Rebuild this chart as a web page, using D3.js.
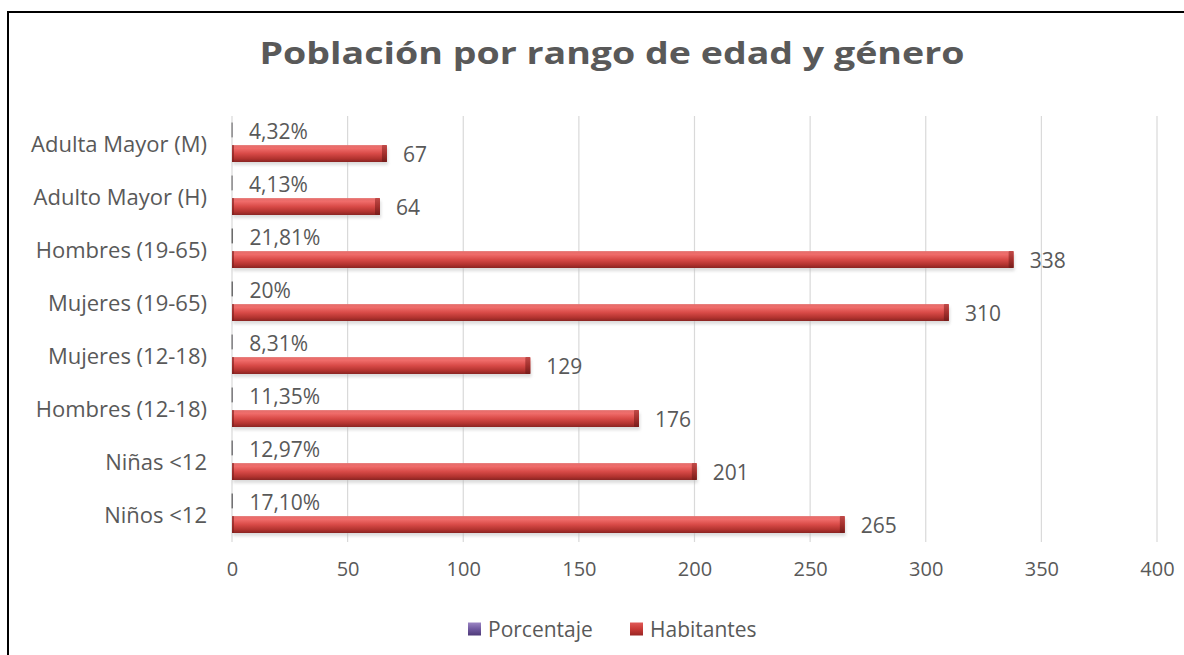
<!DOCTYPE html>
<html>
<head>
<meta charset="utf-8">
<script src="https://cdn.jsdelivr.net/npm/d3@7"></script>
<style>
  html, body { margin: 0; padding: 0; background: #fff; }
  svg { display: block; font-family: "Open Sans", "Noto Sans", sans-serif; }
</style>
</head>
<body>
<svg id="chart" width="1184" height="655"></svg>
<script>
// Categories, top to bottom
const categories = [
  "Adulta Mayor (M)", "Adulto Mayor (H)", "Hombres (19-65)", "Mujeres (19-65)",
  "Mujeres (12-18)", "Hombres (12-18)", "Niñas <12", "Niños <12"
];
// Series values
const habitantes = [67, 64, 338, 310, 129, 176, 201, 265];
const porcentaje = [0.0432, 0.0413, 0.2181, 0.20, 0.0831, 0.1135, 0.1297, 0.1710];
const porcentajeLabels = ["4,32%", "4,13%", "21,81%", "20%", "8,31%", "11,35%", "12,97%", "17,10%"];
const seriesNames = ["Porcentaje", "Habitantes"];
const xTicks = [0, 50, 100, 150, 200, 250, 300, 350, 400];
const title = "Población por rango de edad y género";

const textColor = "#595959";
const font = "'Open Sans', 'Noto Sans', sans-serif";
const svg = d3.select("#chart");
const defs = svg.append("defs");

// Cylinder-like shading for the bars
function barGradient(id, stops) {
  const g = defs.append("linearGradient").attr("id", id)
    .attr("x1", 0).attr("y1", 0).attr("x2", 0).attr("y2", 1);
  stops.forEach(([o, c]) => g.append("stop").attr("offset", o).attr("stop-color", c));
}
barGradient("gRed", [[0, "#e46f6d"], [0.2, "#ef6b69"], [0.5, "#d84a47"], [0.8, "#b2332f"], [1, "#8a2422"]]);
barGradient("gRedCap", [[0, "#c04a48"], [0.5, "#a3302d"], [1, "#761c1a"]]);
barGradient("gPurple", [[0, "#9c86c4"], [0.5, "#7059a0"], [1, "#4e3a78"]]);
barGradient("gLegRed", [[0, "#e05a58"], [0.5, "#c83a37"], [1, "#9a2624"]]);
const blur = defs.append("filter").attr("id", "shadow").attr("x", "-5%").attr("y", "-50%").attr("width", "110%").attr("height", "200%");
blur.append("feGaussianBlur").attr("stdDeviation", 1.5);

// Frame
svg.append("rect").attr("x", 8).attr("y", 12).attr("width", 1200).attr("height", 700)
  .attr("fill", "none").attr("stroke", "#000").attr("stroke-width", 2);

// Title
svg.append("text").attr("x", 612).attr("y", 64).attr("text-anchor", "middle")
  .attr("font-size", 31).attr("font-weight", "bold").attr("fill", textColor)
  .attr("textLength", 705).attr("lengthAdjust", "spacingAndGlyphs")
  .text(title);

// Scales
const x = d3.scaleLinear().domain([0, 400]).range([232, 1157]);
const y = d3.scaleBand().domain(categories).range([116, 540]);
const ySeries = d3.scaleBand().domain(seriesNames).range([8, 46]).paddingInner(0.2);

// Gridlines
svg.append("g").selectAll("line").data(xTicks).join("line")
  .attr("x1", d => x(d)).attr("x2", d => x(d))
  .attr("y1", 116).attr("y2", 542)
  .attr("stroke", "#d9d9d9").attr("stroke-width", 1.2);

// X axis labels
const xAxis = d3.axisBottom(x).tickValues(xTicks).tickSize(0).tickPadding(0);
const gx = svg.append("g").attr("transform", "translate(0,562)").call(xAxis);
gx.select(".domain").remove();
gx.selectAll("text").attr("font-size", 20).attr("fill", textColor).attr("font-family", font);

// Y axis category labels
const yAxis = d3.axisLeft(y).tickSize(0).tickPadding(0);
const gy = svg.append("g").attr("transform", "translate(207,2)").call(yAxis);
gy.select(".domain").remove();
gy.selectAll("text").attr("font-size", 22).attr("fill", textColor).attr("font-family", font);

const rows = categories.map((c, i) => ({ c, hab: habitantes[i], pct: porcentaje[i], pl: porcentajeLabels[i] }));

// Porcentaje bars (on the same value axis, so they are slivers at zero)
const pctG = svg.append("g");
pctG.selectAll("rect").data(rows).join("rect")
  .attr("x", x(0))
  .attr("y", d => y(d.c) + ySeries("Porcentaje") - 1)
  .attr("width", d => x(d.pct) - x(0))
  .attr("height", ySeries.bandwidth() - 3)
  .attr("fill", "url(#gPurple)").attr("stroke", "#6b6b6b").attr("stroke-width", 1);
pctG.selectAll("text").data(rows).join("text")
  .attr("x", d => x(d.pct) + 17)
  .attr("y", d => y(d.c) + ySeries("Porcentaje") + ySeries.bandwidth() / 2 - 1)
  .attr("dominant-baseline", "central")
  .attr("font-size", 21).attr("fill", textColor)
  .text(d => d.pl);

// Habitantes bars
const habG = svg.append("g");
habG.selectAll("rect.shadow").data(rows).join("rect").attr("class", "shadow")
  .attr("x", x(0) + 1)
  .attr("y", d => y(d.c) + ySeries("Habitantes") + 3)
  .attr("width", d => x(d.hab) - x(0))
  .attr("height", ySeries.bandwidth())
  .attr("fill", "#b9b9b9").attr("opacity", 0.5).attr("filter", "url(#shadow)");
habG.selectAll("rect.bar").data(rows).join("rect").attr("class", "bar")
  .attr("x", x(0))
  .attr("y", d => y(d.c) + ySeries("Habitantes"))
  .attr("width", d => x(d.hab) - x(0))
  .attr("height", ySeries.bandwidth())
  .attr("fill", "url(#gRed)");
habG.selectAll("rect.cap").data(rows).join("rect").attr("class", "cap")
  .attr("x", d => x(d.hab) - 5)
  .attr("y", d => y(d.c) + ySeries("Habitantes"))
  .attr("width", 5)
  .attr("height", ySeries.bandwidth())
  .attr("rx", 1)
  .attr("fill", "url(#gRedCap)");
habG.selectAll("rect.start").data(rows).join("rect").attr("class", "start")
  .attr("x", x(0))
  .attr("y", d => y(d.c) + ySeries("Habitantes"))
  .attr("width", 2)
  .attr("height", ySeries.bandwidth())
  .attr("fill", "#7a1e1c").attr("opacity", 0.6);
habG.selectAll("text").data(rows).join("text")
  .attr("x", d => x(d.hab) + 16)
  .attr("y", d => y(d.c) + ySeries("Habitantes") + ySeries.bandwidth() / 2)
  .attr("dominant-baseline", "central")
  .attr("font-size", 21).attr("fill", textColor)
  .text(d => d.hab);

// Legend
const legend = [
  { name: "Porcentaje", fill: "url(#gPurple)", x: 468 },
  { name: "Habitantes", fill: "url(#gLegRed)", x: 630 }
];
const lg = svg.append("g").selectAll("g").data(legend).join("g")
  .attr("transform", d => `translate(${d.x},629)`);
lg.append("rect").attr("x", 0).attr("y", -6.5).attr("width", 13).attr("height", 13)
  .attr("fill", d => d.fill);
lg.append("text").attr("x", 20).attr("y", 0).attr("dominant-baseline", "central")
  .attr("font-size", 21).attr("fill", textColor).text(d => d.name);
</script>
</body>
</html>
